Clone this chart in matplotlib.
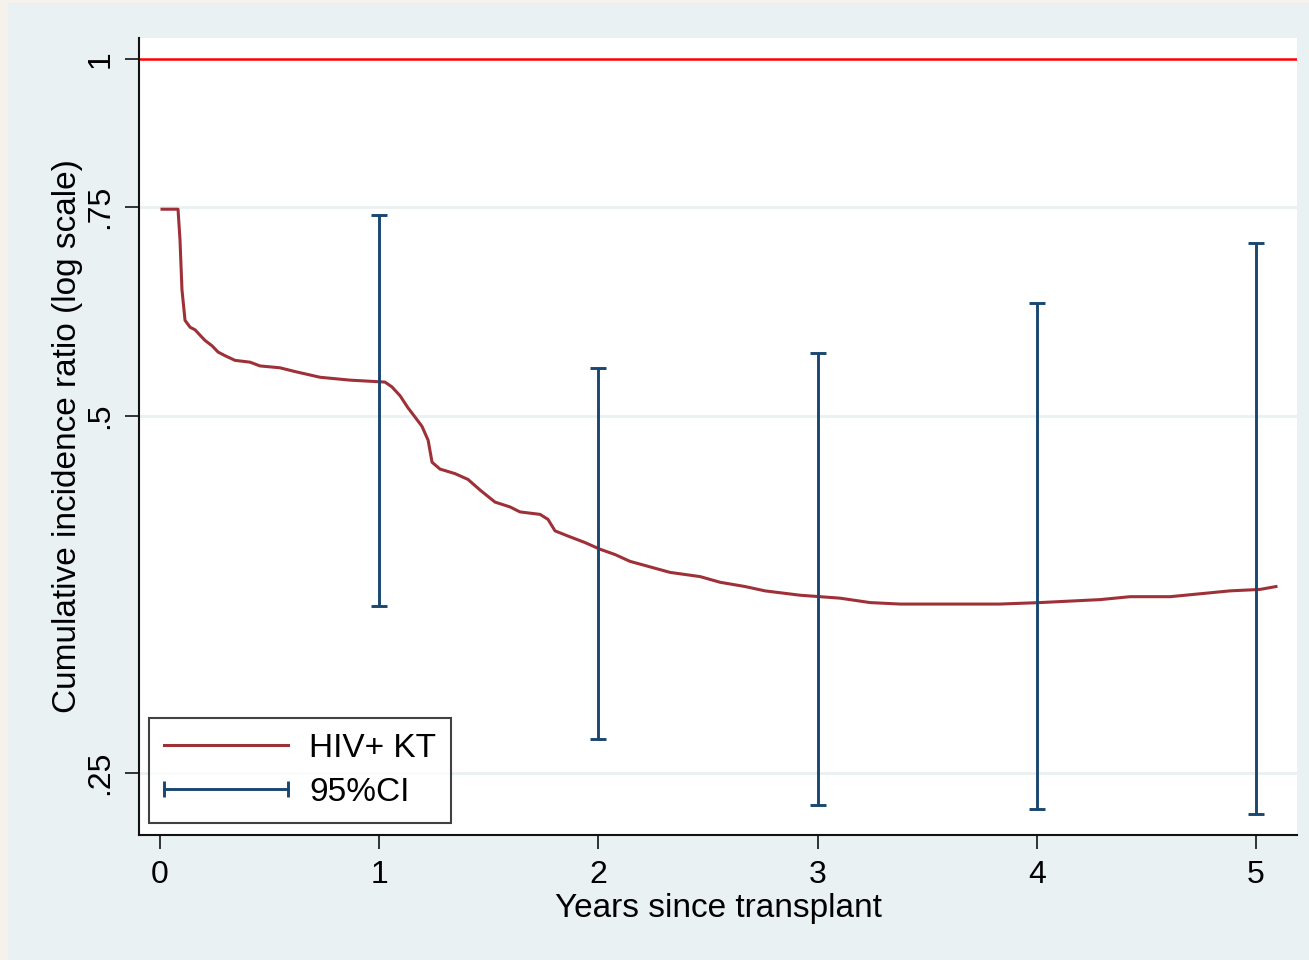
import numpy as np
import matplotlib
matplotlib.use("Agg")
import matplotlib.pyplot as plt
from matplotlib.lines import Line2D
from matplotlib.patches import Rectangle
from matplotlib.legend_handler import HandlerLine2D

plt.rcParams['font.family'] = ['Liberation Sans', 'DejaVu Sans']

# cumulative incidence ratio, HIV+ KT
years = [0.009, 0.082, 0.091, 0.100, 0.114, 0.137, 0.160, 0.182, 0.205, 0.237,
         0.265, 0.297, 0.342, 0.411, 0.456, 0.547, 0.616, 0.730, 0.867, 1.026,
         1.058, 1.095, 1.131, 1.163, 1.195, 1.223, 1.241, 1.277, 1.346, 1.405,
         1.460, 1.528, 1.597, 1.642, 1.734, 1.770, 1.802, 1.861, 1.939, 2.007,
         2.076, 2.144, 2.235, 2.327, 2.464, 2.555, 2.669, 2.760, 2.920, 3.102,
         3.239, 3.376, 3.832, 4.015, 4.151, 4.288, 4.425, 4.608, 4.745, 4.881,
         5.018, 5.091]
ratio = [0.747, 0.747, 0.704, 0.639, 0.602, 0.594, 0.591, 0.585, 0.579, 0.573,
         0.566, 0.562, 0.557, 0.555, 0.551, 0.549, 0.545, 0.539, 0.536, 0.534,
         0.529, 0.520, 0.508, 0.499, 0.490, 0.477, 0.457, 0.451, 0.447, 0.442,
         0.433, 0.423, 0.419, 0.415, 0.413, 0.409, 0.400, 0.396, 0.391, 0.386,
         0.382, 0.377, 0.373, 0.369, 0.366, 0.362, 0.359, 0.356, 0.353, 0.351,
         0.348, 0.347, 0.347, 0.348, 0.349, 0.350, 0.352, 0.352, 0.354, 0.356,
         0.357, 0.359]

# 95% CI at whole years
ci_years = [1, 2, 3, 4, 5]
ci_low = [0.346, 0.267, 0.235, 0.233, 0.231]
ci_high = [0.739, 0.549, 0.565, 0.623, 0.700]

yticks = [0.25, 0.5, 0.75, 1]
ytick_labels = ['.25', '.5', '.75', '1']
xticks = [0, 1, 2, 3, 4, 5]

maroon = '#9E3038'
navy = '#1A476F'
bg = '#EAF1F3'

fig = plt.figure(figsize=(13.09, 9.6), dpi=100, facecolor='#F4F2EA')
fig.patches.append(Rectangle((8 / 1309, 0), 1 - 8 / 1309, 1 - 3 / 960,
                             transform=fig.transFigure, facecolor=bg,
                             edgecolor='none', zorder=-5))
ax = fig.add_axes([139 / 1309, 125 / 960, (1297 - 139) / 1309, (835 - 38) / 960])
ax.set_facecolor('white')
ax.set_yscale('log')

for v in yticks[:-1]:
    ax.axhline(v, color=bg, lw=2, zorder=1)
ax.axhline(1, color='#FF0000', lw=1.8, zorder=2)

ax.plot(years, ratio, color=maroon, lw=2.2, zorder=3)

ci_mid = [(lo + hi) / 2 for lo, hi in zip(ci_low, ci_high)]
yerr = [np.subtract(ci_mid, ci_low), np.subtract(ci_high, ci_mid)]
ax.errorbar(ci_years, ci_mid, yerr=yerr, fmt='none', ecolor=navy,
            elinewidth=2.1, capsize=5.8, capthick=2.1, zorder=4)

ax.set_xlim(-0.096, 5.187)
ax.set_ylim(0.2216, 1.0416)
ax.set_xticks(xticks)
ax.set_xticklabels([str(x) for x in xticks])
ax.set_yticks(yticks)
ax.set_yticklabels(ytick_labels)
ax.yaxis.set_minor_locator(plt.NullLocator())
for lab in ax.get_yticklabels():
    lab.set_rotation(90)
    lab.set_va('center')

ax.tick_params(axis='both', direction='out', length=10, width=1.3,
               labelsize=23, color='#222222')
ax.tick_params(axis='y', pad=7)
ax.tick_params(axis='x', pad=8)

for s in ['top', 'right']:
    ax.spines[s].set_visible(False)
for s in ['left', 'bottom']:
    ax.spines[s].set_linewidth(1.5)
    ax.spines[s].set_color('#111111')

ax.set_xlabel('Years since transplant', fontsize=24, labelpad=2)
ax.set_ylabel('Cumulative incidence ratio (log scale)', fontsize=24, labelpad=2)

h_line = Line2D([], [], color=maroon, lw=2.2)
h_ci = Line2D([], [], color=navy, lw=2.1, marker='|', markersize=12,
              markeredgewidth=2.1)
leg = ax.legend([h_line, h_ci], ['HIV+ KT', '95%CI'], loc='lower left',
                bbox_to_anchor=(0.009, 0.015), fontsize=24, frameon=True,
                fancybox=False, edgecolor='#111111', handlelength=3.7,
                handletextpad=0.65, labelspacing=0.4, borderpad=0.45,
                borderaxespad=0,
                handler_map={h_ci: HandlerLine2D(numpoints=2, marker_pad=0)})
leg.get_frame().set_linewidth(1.5)

fig.savefig('out.png', dpi=100, facecolor=fig.get_facecolor())
